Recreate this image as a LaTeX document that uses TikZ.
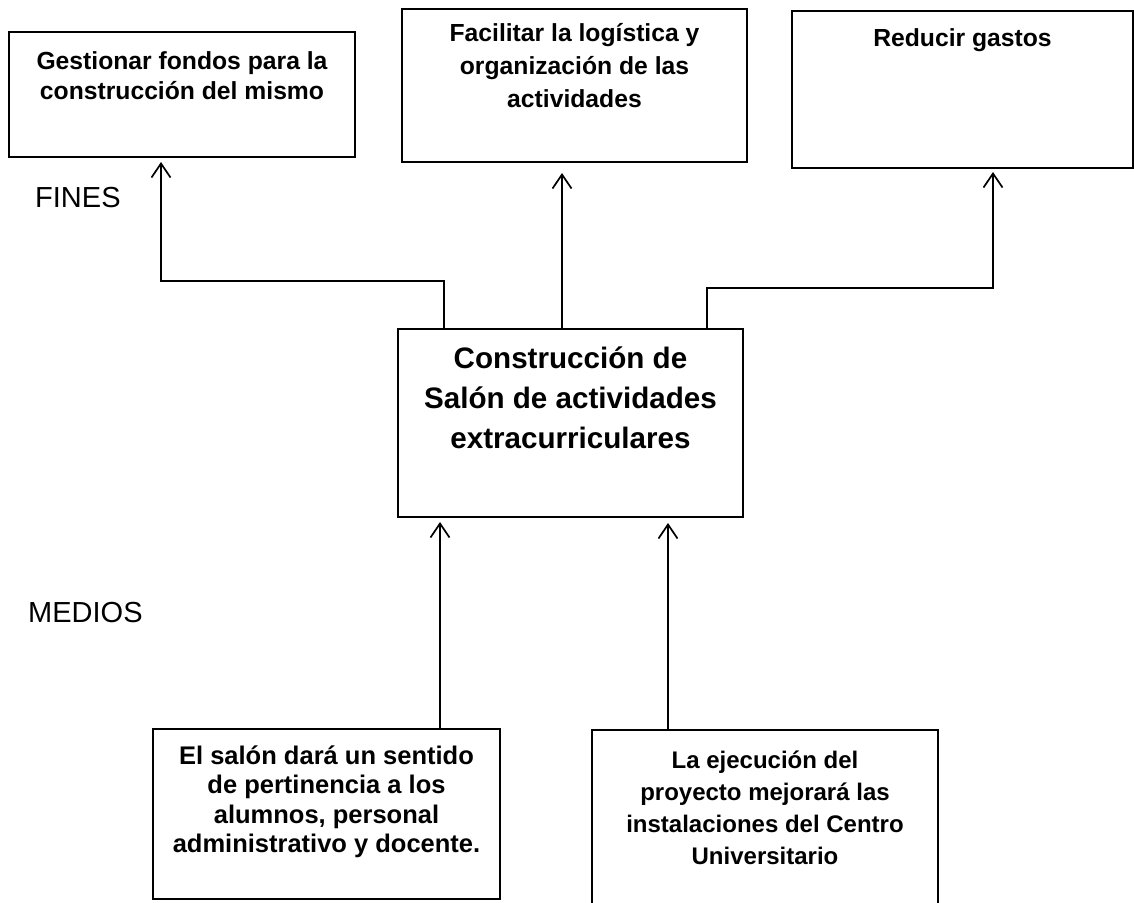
\documentclass[tikz,border=0pt]{standalone}
\usepackage{fontspec}
\setmainfont{Liberation Sans}
\usetikzlibrary{arrows.meta}
\tikzset{
  box/.style={draw=black, line width=2pt, inner sep=0pt, anchor=north west},
  arr/.style={draw=black, line width=1.7pt, -{Straight Barb[length=14pt,width=19pt,line width=1.7pt]}},
  lbl/.style={inner sep=0pt, anchor=base west, font=\fontsize{29}{34}\selectfont}
}
\begin{document}
\begin{tikzpicture}[x=1pt,y=-1pt]
\useasboundingbox[fill=white] (0,0) rectangle (1134,902);

% top boxes (FINES)
\node[box] (b1) at (8,31) {\parbox[t][125pt][t]{346pt}{\centering\fontsize{24.7}{30}\bfseries\selectfont
  \rule{0pt}{37pt}Gestionar fondos para la\\construcción del mismo}};
\node[box] (b2) at (401,8) {\parbox[t][153pt][t]{345pt}{\centering\fontsize{24.7}{33}\bfseries\selectfont
  \rule{0pt}{32pt}Facilitar la logística y\\organización de las\\actividades}};
\node[box] (b3) at (791,10) {\parbox[t][157pt][t]{341pt}{\centering\fontsize{24.7}{33}\bfseries\selectfont
  \rule{0pt}{35pt}Reducir gastos}};

% central box
\node[box] (c) at (397,328) {\parbox[t][188pt][t]{345pt}{\centering\fontsize{29.6}{40}\bfseries\selectfont
  \rule{0pt}{39pt}Construcción de\\Salón de actividades\\extracurriculares}};

% bottom boxes (MEDIOS)
\node[box] (bl) at (152,728) {\parbox[t][170pt][t]{347pt}{\centering\fontsize{25.5}{29.5}\bfseries\selectfont
  \rule{0pt}{35pt}El salón dará un sentido\\de pertinencia a los\\alumnos, personal\\administrativo y docente.}};
\node[box] (br) at (591,729) {\parbox[t][185pt][t]{346pt}{\centering\fontsize{24}{32}\bfseries\selectfont
  \rule{0pt}{38pt}La ejecución del\\proyecto mejorará las\\instalaciones del Centro\\Universitario}};

% side labels
\node[lbl] (fines) at (35,207) {FINES};
\node[lbl] (medios) at (28,622) {MEDIOS};

% connectors to ends
\draw[arr, shorten >=4pt] ([xshift=47pt]c.north west) -- ++(0,-47) -| ([xshift=153pt]b1.south west);
\draw[arr, shorten >=10pt] ([xshift=165pt]c.north west) -- ([xshift=165pt]c.north west |- b2.south);
\draw[arr, shorten >=3pt] ([xshift=310pt]c.north west) -- ++(0,-40) -| ([xshift=202pt]b3.south west);

% connectors from means
\draw[arr, shorten >=4pt] ([xshift=288pt]bl.north west) -- ([xshift=288pt]bl.north west |- c.south);
\draw[arr, shorten >=5pt] ([xshift=77pt]br.north west) -- ([xshift=77pt]br.north west |- c.south);
\end{tikzpicture}
\end{document}
